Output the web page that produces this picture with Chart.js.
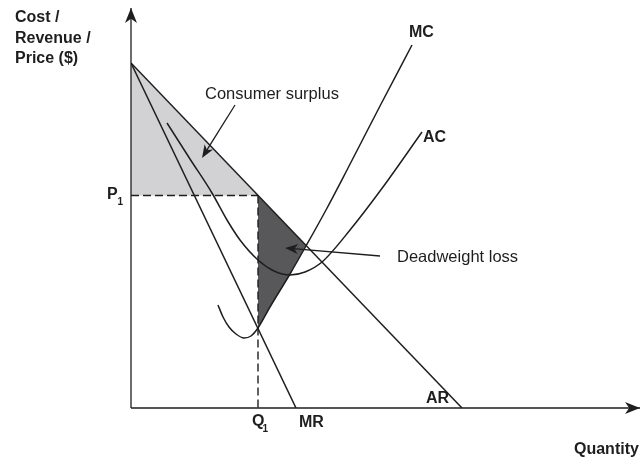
<!DOCTYPE html>
<html>
<head>
<meta charset="utf-8">
<script src="https://cdn.jsdelivr.net/npm/chart.js@4"></script>
<style>
  html, body { margin: 0; padding: 0; background: #fff; }
</style>
</head>
<body>
<canvas id="chart" width="641" height="463"></canvas>
<script>
// quantity runs 0-100, cost/price 0-80 (arbitrary units)
const arLine = [{x: 0, y: 69}, {x: 66.2, y: 0}];
const mrLine = [{x: 0, y: 69}, {x: 33, y: 0}];
const mcCurve = [
  {x: 17.4, y: 20.6}, {x: 18.4, y: 18.2}, {x: 19.6, y: 16.2}, {x: 21, y: 14.8},
  {x: 22.6, y: 14}, {x: 24, y: 14.4}, {x: 25.4, y: 16}, {x: 27.8, y: 20.2},
  {x: 31.8, y: 26.8}, {x: 35, y: 32.4}, {x: 39, y: 39.6}, {x: 43.2, y: 47.6},
  {x: 49.8, y: 60.4}, {x: 56.2, y: 72.6}
];
const acCurve = [
  {x: 7.2, y: 57}, {x: 11.8, y: 49.8}, {x: 16.2, y: 43}, {x: 19.2, y: 37.6},
  {x: 21.8, y: 33.6}, {x: 25.4, y: 29.6}, {x: 28.6, y: 27.4}, {x: 31.8, y: 26.6},
  {x: 34.8, y: 27.2}, {x: 38.2, y: 29.2}, {x: 43.8, y: 35.6}, {x: 50.4, y: 44.2},
  {x: 58.2, y: 55.2}
];
const p1 = 42.5;
const q1 = 25.4;
const csEdge = [{x: 0, y: 69}, {x: q1, y: p1}];
const dwlTop = [{x: q1, y: p1}, {x: 35, y: 32.5}];

const yAxisLine = [{x: 0, y: 0}, {x: 0, y: 80}];
const xAxisLine = [{x: 0, y: 0}, {x: 101.8, y: 0}];

// arrows: [from, to]
const arrows = [
  {from: {x: 0, y: 0}, to: {x: 0, y: 80}, len: 15, half: 6},
  {from: {x: 0, y: 0}, to: {x: 101.8, y: 0}, len: 15, half: 6},
  {from: {x: 20.8, y: 60.6}, to: {x: 14.2, y: 50}, len: 13, half: 5},
  {from: {x: 49.8, y: 30.4}, to: {x: 30.8, y: 32}, len: 13, half: 5}
];

const labels = [
  {text: 'Cost /', x: -23.2, y: 78, font: 'bold 16px Arial'},
  {text: 'Revenue /', x: -23.2, y: 73.8, font: 'bold 16px Arial'},
  {text: 'Price ($)', x: -23.2, y: 69.8, font: 'bold 16px Arial'},
  {text: 'MC', x: 55.6, y: 75, font: 'bold 16px Arial'},
  {text: 'AC', x: 58.4, y: 54, font: 'bold 16px Arial'},
  {text: 'Consumer surplus', x: 14.8, y: 62.8, font: '16.5px Arial'},
  {text: 'Deadweight loss', x: 53.2, y: 30.2, font: '16.5px Arial'},
  {text: 'P', x: -4.8, y: 42.6, font: 'bold 16px Arial'},
  {text: '1', x: -2.7, y: 41.2, font: 'bold 10px Arial'},
  {text: 'Q', x: 24.2, y: -2.8, font: 'bold 16px Arial'},
  {text: '1', x: 26.3, y: -4.2, font: 'bold 10px Arial'},
  {text: 'MR', x: 33.6, y: -3, font: 'bold 16px Arial'},
  {text: 'AR', x: 59, y: 1.8, font: 'bold 16px Arial'},
  {text: 'Quantity', x: 88.6, y: -8.4, font: 'bold 16px Arial'}
];

const ink = '#1e1e1e';

const annotate = {
  id: 'annotate',
  afterDatasetsDraw(chart) {
    const ctx = chart.ctx;
    const xs = chart.scales.x, ys = chart.scales.y;
    ctx.save();
    ctx.strokeStyle = ink;
    ctx.fillStyle = ink;
    arrows.forEach(a => {
      const x1 = xs.getPixelForValue(a.from.x), y1 = ys.getPixelForValue(a.from.y);
      const x2 = xs.getPixelForValue(a.to.x), y2 = ys.getPixelForValue(a.to.y);
      const ang = Math.atan2(y2 - y1, x2 - x1);
      if (a.len < 15) {
        ctx.lineWidth = 1.3;
        ctx.beginPath();
        ctx.moveTo(x1, y1);
        ctx.lineTo(x2 - Math.cos(ang) * 8, y2 - Math.sin(ang) * 8);
        ctx.stroke();
      }
      ctx.save();
      ctx.translate(x2, y2);
      ctx.rotate(ang);
      ctx.beginPath();
      ctx.moveTo(0, 0);
      ctx.lineTo(-a.len, -a.half);
      ctx.lineTo(-a.len * 0.72, 0);
      ctx.lineTo(-a.len, a.half);
      ctx.closePath();
      ctx.fill();
      ctx.restore();
    });
    ctx.textBaseline = 'middle';
    ctx.textAlign = 'left';
    labels.forEach(l => {
      ctx.font = l.font;
      ctx.fillText(l.text, xs.getPixelForValue(l.x), ys.getPixelForValue(l.y));
    });
    ctx.restore();
  }
};

const line = (data, extra) => Object.assign({
  data,
  borderColor: ink,
  borderWidth: 1.5,
  pointRadius: 0,
  fill: false
}, extra);

new Chart(document.getElementById('chart'), {
  type: 'line',
  data: {
    datasets: [
      line(arLine),
      line(mrLine),
      line(mcCurve, {cubicInterpolationMode: 'monotone'}),
      line(acCurve, {cubicInterpolationMode: 'monotone'}),
      line(yAxisLine, {clip: false, borderWidth: 1.3}),
      line(xAxisLine, {clip: false, borderWidth: 1.3}),
      line([{x: 0, y: p1}, {x: q1, y: p1}], {borderDash: [8, 4], borderWidth: 1.4}),
      line([{x: q1, y: p1}, {x: q1, y: 0}], {borderDash: [8, 4], borderWidth: 1.4}),
      line(csEdge, {borderWidth: 0, fill: {value: p1}, backgroundColor: '#d2d2d4'}),
      line(dwlTop, {borderWidth: 0, fill: 2, backgroundColor: '#58585a'})
    ]
  },
  options: {
    responsive: false,
    devicePixelRatio: 1,
    animation: false,
    layout: {padding: {left: 131, right: 10, top: 8, bottom: 55}},
    scales: {
      x: {type: 'linear', min: 0, max: 100, display: false},
      y: {type: 'linear', min: 0, max: 80, display: false}
    },
    plugins: {
      legend: {display: false},
      tooltip: {enabled: false}
    }
  },
  plugins: [annotate]
});
</script>
</body>
</html>
